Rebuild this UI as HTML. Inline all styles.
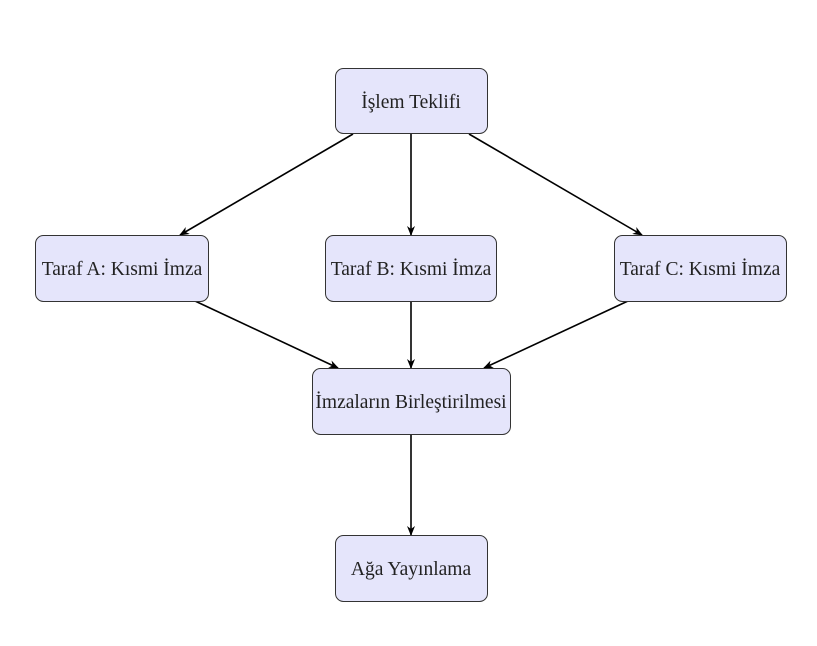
<!DOCTYPE html>
<html><head><meta charset="utf-8"><style>
body{margin:0;background:#fff;width:817px;height:641px;overflow:hidden}
</style></head><body>
<svg width="817" height="641" xmlns="http://www.w3.org/2000/svg" font-family="Liberation Serif, serif" font-size="19.5">
<defs><marker id="a" markerWidth="10" markerHeight="8" refX="9" refY="4" orient="auto" markerUnits="userSpaceOnUse"><path d="M0,0 L10,4 L0,8 L3,4 Z" fill="#000"/></marker></defs>
<g stroke="#000" stroke-width="1.6" marker-end="url(#a)">
<line x1="353" y1="134" x2="180" y2="235"/>
<line x1="411" y1="134" x2="411" y2="235"/>
<line x1="469" y1="134" x2="642" y2="235"/>
<line x1="195" y1="301" x2="338" y2="368"/>
<line x1="411" y1="301" x2="411" y2="368"/>
<line x1="628" y1="301" x2="484" y2="368"/>
<line x1="411" y1="434" x2="411" y2="535"/>
</g>
<g fill="#e5e5fb" stroke="#333" stroke-width="1">
<rect x="335.5" y="68.5" width="152" height="65" rx="8"/>
<rect x="35.5" y="235.5" width="173" height="66" rx="8"/>
<rect x="325.5" y="235.5" width="171" height="66" rx="8"/>
<rect x="614.5" y="235.5" width="172" height="66" rx="8"/>
<rect x="312.5" y="368.5" width="198" height="66" rx="8"/>
<rect x="335.5" y="535.5" width="152" height="66" rx="8"/>
</g>
<g text-anchor="middle" fill="#222">
<text x="411" y="108">İşlem Teklifi</text>
<text x="122" y="275">Taraf A: Kısmi İmza</text>
<text x="411" y="275">Taraf B: Kısmi İmza</text>
<text x="700" y="275">Taraf C: Kısmi İmza</text>
<text x="411" y="408">İmzaların Birleştirilmesi</text>
<text x="411" y="575">Ağa Yayınlama</text>
</g>
</svg>
</body></html>
